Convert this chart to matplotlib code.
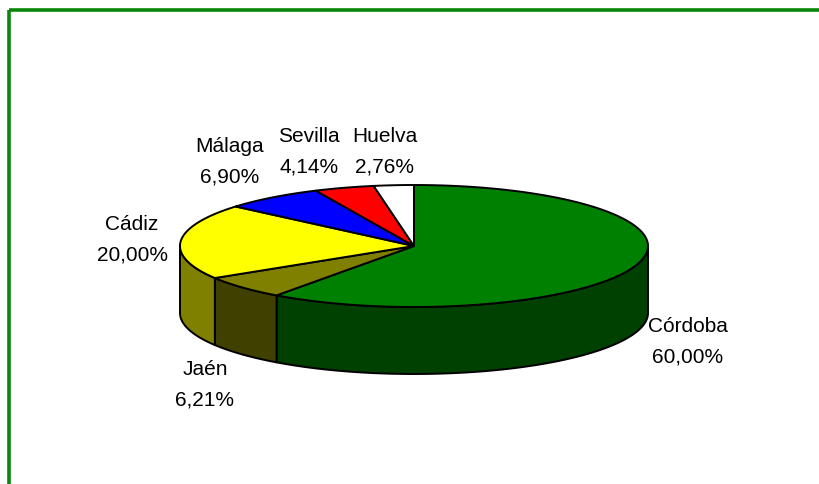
import numpy as np
import matplotlib
matplotlib.use("Agg")
import matplotlib.pyplot as plt
from matplotlib.patches import Polygon, Rectangle

# ---- data ----
provinces = ["Córdoba", "Jaén", "Cádiz", "Málaga", "Sevilla", "Huelva"]
percent = [60.00, 6.21, 20.00, 6.90, 4.14, 2.76]
labels_pct = ["60,00%", "6,21%", "20,00%", "6,90%", "4,14%", "2,76%"]

# ---- styles ----
top_colors = ["#008000", "#808000", "#FFFF00", "#0000FF", "#FF0000", "#FFFFFF"]
side_colors = ["#004000", "#404000", "#808000", "#000080", "#800000", "#808080"]

W, H = 819, 485
fig = plt.figure(figsize=(W / 100, H / 100), dpi=100)
ax = fig.add_axes([0, 0, 1, 1])
ax.set_xlim(0, W)
ax.set_ylim(H, 0)
ax.axis("off")

# frame (green border, right/bottom outside the picture)
ax.add_patch(Rectangle((8.5, 11), 900, 600, fill=False, edgecolor="#0a870a",
                       linewidth=2.6, zorder=0))

cx, cy, rx, ry, depth = 414, 247, 234, 61, 67

vals = np.array(percent, dtype=float)
fr = vals / vals.sum()
cum = np.concatenate([[0], np.cumsum(fr)])
starts = 90 - cum[:-1] * 360
ends = 90 - cum[1:] * 360


def pt(theta_deg, dy=0.0):
    t = np.radians(theta_deg)
    return cx + rx * np.cos(t), cy - ry * np.sin(t) + dy


# sides (only the front half)
for i in range(len(vals)):
    a_hi, a_lo = starts[i], ends[i]
    for shift in (0, -360, 360):
        lo = max(a_lo + shift, -180)
        hi = min(a_hi + shift, 0)
        if hi > lo:
            th = np.linspace(lo, hi, 200)
            topx, topy = pt(th)
            botx, boty = pt(th[::-1], depth)
            xs = np.concatenate([topx, botx])
            ys = np.concatenate([topy, boty])
            ax.add_patch(Polygon(np.column_stack([xs, ys]), closed=True,
                                 facecolor=side_colors[i], edgecolor="black",
                                 linewidth=1.4, joinstyle="round", zorder=2))

# top wedges
for i in range(len(vals)):
    th = np.linspace(starts[i], ends[i], 300)
    x, y = pt(th)
    xs = np.concatenate([[cx], x])
    ys = np.concatenate([[cy], y])
    ax.add_patch(Polygon(np.column_stack([xs, ys]), closed=True,
                         facecolor=top_colors[i], edgecolor="black",
                         linewidth=1.4, joinstyle="round", zorder=3))

# labels (two lines, 30 px apart)
label_pos = [(688, 327), (205, 370), (132, 225), (230, 147), (309, 137), (385, 137)]
font = dict(fontsize=15, family=["Liberation Sans", "DejaVu Sans"], color="black",
            ha="center", va="center", zorder=5)
for i, (lx, ly) in enumerate(label_pos):
    ax.text(lx, ly, provinces[i], **font)
    ax.text(lx, ly + 30, labels_pct[i], **font)

fig.savefig("out.png", dpi=100, facecolor="white")
